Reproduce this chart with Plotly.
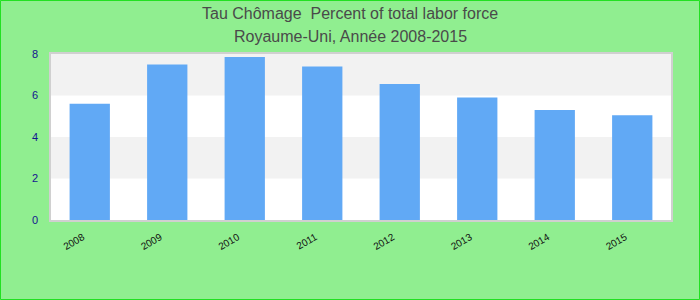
import plotly.graph_objects as go

years = ["2008", "2009", "2010", "2011", "2012", "2013", "2014", "2015"]
values = [5.6, 7.5, 7.85, 7.4, 6.55, 5.9, 5.3, 5.05]
title_line1 = "Tau Chômage  Percent of total labor force"
title_line2 = "Royaume-Uni, Année 2008-2015"

W, H = 700, 300
L, R, T, B = 51, 29, 54, 80
pw, ph = W - L - R, H - T - B

fig = go.Figure()
fig.add_trace(go.Bar(x=years, y=values, marker=dict(color="#61a9f5", line=dict(width=0)),
                     hoverinfo="x+y"))

shapes = []
for y0, y1 in [(2, 4), (6, 8)]:
    shapes.append(dict(type="rect", xref="paper", yref="y", x0=0, x1=1, y0=y0, y1=y1,
                       fillcolor="#f2f2f2", line=dict(width=0), layer="below"))
# figure border
shapes.append(dict(type="rect", xref="paper", yref="paper",
                   x0=(-L + 0.5) / pw, x1=(pw + R - 0.5) / pw,
                   y0=(-B + 0.5) / ph, y1=(ph + T - 0.5) / ph,
                   line=dict(color="#22e022", width=1), fillcolor="rgba(0,0,0,0)"))

annotations = [
    dict(text=title_line1, xref="paper", yref="paper", x=(350 - L) / pw, y=1 + (T - 13) / ph,
         showarrow=False, xanchor="center", yanchor="middle",
         font=dict(family="Liberation Sans, Arial", size=16, color="#4a4a4a")),
    dict(text=title_line2, xref="paper", yref="paper", x=(350 - L) / pw, y=1 + (T - 36) / ph,
         showarrow=False, xanchor="center", yanchor="middle",
         font=dict(family="Liberation Sans, Arial", size=16, color="#4a4a4a")),
]

fig.update_layout(
    width=W, height=H,
    margin=dict(l=L, r=R, t=T, b=B, pad=0),
    paper_bgcolor="#90ee90",
    plot_bgcolor="#ffffff",
    bargap=0.48,
    showlegend=False,
    shapes=shapes,
    annotations=annotations,
    xaxis=dict(showgrid=False, showline=True, linecolor="#d0d0d0", linewidth=1.5, mirror=True,
               tickangle=-30, tickfont=dict(family="Liberation Sans, Arial", size=10, color="#111111"),
               ticks="outside", ticklen=6, tickcolor="rgba(0,0,0,0)",
               ticklabelshift=-7, fixedrange=True),
    yaxis=dict(range=[0, 8], tickvals=[0, 2, 4, 6, 8], showgrid=False, zeroline=False,
               showline=True, linecolor="#d0d0d0", linewidth=1.5, mirror=True,
               tickfont=dict(family="Liberation Sans, Arial", size=11, color="#14148f"),
               ticks="outside", ticklen=9, tickcolor="rgba(0,0,0,0)", fixedrange=True),
)

fig.write_html("out.html", config={"displayModeBar": False})
